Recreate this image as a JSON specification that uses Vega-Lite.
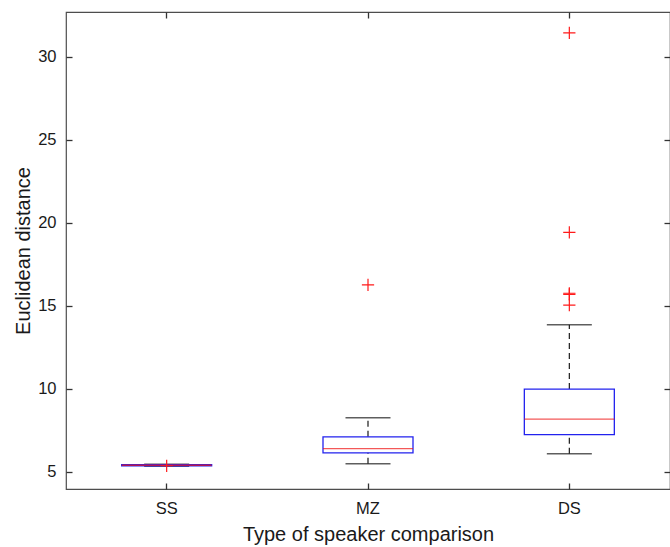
{
  "$schema": "https://vega.github.io/schema/vega-lite/v6.json",
  "autosize": "none",
  "width": 604,
  "height": 477,
  "padding": {"left": 66, "top": 12, "right": 0, "bottom": 58},
  "background": "white",
  "config": {
    "view": {"stroke": "#4d4d4d", "strokeWidth": 1.2},
    "axis": {
      "labelFont": "Liberation Sans",
      "titleFont": "Liberation Sans",
      "labelFontSize": 16.5,
      "titleFontSize": 20,
      "labelColor": "#1a1a1a",
      "titleColor": "#1a1a1a",
      "titleFontWeight": "normal",
      "tickColor": "#333333",
      "domain": false,
      "grid": false,
      "ticks": true,
      "tickSize": -6,
      "tickWidth": 1.3,
      "zindex": 1
    }
  },
  "datasets": {
    "boxes": [
      {"group": "SS", "lower": 5.33, "q1": 5.36, "median": 5.39, "q3": 5.42, "upper": 5.45},
      {"group": "MZ", "lower": 5.48, "q1": 6.14, "median": 6.39, "q3": 7.1, "upper": 8.25},
      {"group": "DS", "lower": 6.08, "q1": 7.23, "median": 8.17, "q3": 9.98, "upper": 13.86}
    ],
    "outliers": [
      {"group": "SS", "value": 5.36},
      {"group": "MZ", "value": 16.25},
      {"group": "DS", "value": 31.43},
      {"group": "DS", "value": 19.42},
      {"group": "DS", "value": 15.75},
      {"group": "DS", "value": 15.68},
      {"group": "DS", "value": 15.04}
    ]
  },
  "resolve": {"axis": {"x": "independent", "y": "independent"}},
  "layer": [
    {
      "data": {"name": "boxes"},
      "mark": {"type": "rule", "color": "#1a1a1a", "strokeDash": [6, 4], "strokeWidth": 1.2},
      "encoding": {
        "x": {"field": "group", "type": "nominal", "sort": ["SS", "MZ", "DS"],
              "scale": {"domain": ["SS", "MZ", "DS"], "paddingInner": 0, "paddingOuter": 0},
              "axis": {"orient": "bottom", "title": "Type of speaker comparison", "labelAngle": 0, "labelPadding": 17, "titlePadding": 8}},
        "y": {"field": "lower", "type": "quantitative",
              "scale": {"domain": [3.96, 32.69], "nice": false, "zero": false},
              "axis": {"orient": "left", "title": "Euclidean distance", "values": [5, 10, 15, 20, 25, 30], "labelPadding": 16, "titlePadding": 4}},
        "y2": {"field": "q1"}
      }
    },
    {
      "data": {"name": "boxes"},
      "mark": {"type": "rule", "color": "#1a1a1a", "strokeDash": [6, 4], "strokeWidth": 1.2},
      "encoding": {
        "x": {"field": "group", "type": "nominal", "sort": ["SS", "MZ", "DS"],
              "axis": {"orient": "top", "title": null, "labels": false}},
        "y": {"field": "q3", "type": "quantitative",
              "axis": {"orient": "right", "title": null, "labels": false, "values": [5, 10, 15, 20, 25, 30]}},
        "y2": {"field": "upper"}
      }
    },
    {
      "data": {"name": "boxes"},
      "mark": {"type": "tick", "orient": "horizontal", "color": "#1a1a1a", "size": 45, "thickness": 1.5},
      "encoding": {
        "x": {"field": "group", "type": "nominal", "sort": ["SS", "MZ", "DS"], "axis": null},
        "y": {"field": "lower", "type": "quantitative", "axis": null}
      }
    },
    {
      "data": {"name": "boxes"},
      "mark": {"type": "tick", "orient": "horizontal", "color": "#1a1a1a", "size": 45, "thickness": 1.5},
      "encoding": {
        "x": {"field": "group", "type": "nominal", "sort": ["SS", "MZ", "DS"], "axis": null},
        "y": {"field": "upper", "type": "quantitative", "axis": null}
      }
    },
    {
      "data": {"name": "boxes"},
      "mark": {"type": "bar", "size": 90, "fill": "white", "fillOpacity": 0, "stroke": "#2222ee", "strokeWidth": 1.3},
      "encoding": {
        "x": {"field": "group", "type": "nominal", "sort": ["SS", "MZ", "DS"], "axis": null},
        "y": {"field": "q1", "type": "quantitative", "axis": null},
        "y2": {"field": "q3"}
      }
    },
    {
      "data": {"name": "boxes"},
      "mark": {"type": "tick", "orient": "horizontal", "color": "#ee1111", "size": 90, "thickness": 1.3},
      "encoding": {
        "x": {"field": "group", "type": "nominal", "sort": ["SS", "MZ", "DS"], "axis": null},
        "y": {"field": "median", "type": "quantitative", "axis": null}
      }
    },
    {
      "data": {"name": "outliers"},
      "mark": {"type": "point", "shape": "M-1,0H1M0,-1V1", "size": 150, "filled": false, "stroke": "#ff1a1a", "strokeWidth": 1.2, "opacity": 1},
      "encoding": {
        "x": {"field": "group", "type": "nominal", "sort": ["SS", "MZ", "DS"], "axis": null},
        "y": {"field": "value", "type": "quantitative", "axis": null}
      }
    }
  ]
}
